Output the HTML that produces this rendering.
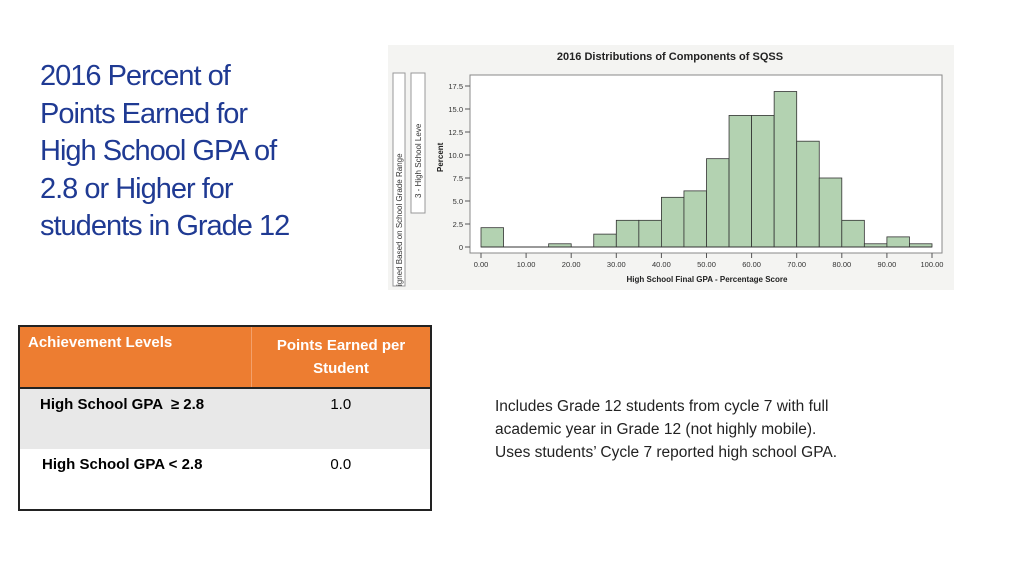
<!DOCTYPE html>
<html><head><meta charset="utf-8"><style>
body{margin:0;width:1024px;height:576px;background:#fff;position:relative;overflow:hidden;font-family:"Liberation Sans",sans-serif}
.t{position:absolute}
</style></head><body>
<div class="t" style="left:40px;top:58px;font-size:29px;line-height:37.5px;color:#1f3a93;letter-spacing:-1px;font-family:'Liberation Sans Narrow','Liberation Sans',sans-serif">2016 Percent of<br>Points Earned for<br>High School GPA of<br>2.8 or Higher for<br>students in Grade 12</div>

<svg class="t" style="left:0;top:0" width="1024" height="576">
<rect x="388" y="45" width="566" height="245" fill="#f4f4f2"/>
<text x="670" y="60" text-anchor="middle" font-size="11" font-weight="bold" fill="#222">2016 Distributions of Components of SQSS</text>
<rect x="393" y="73" width="12" height="213" fill="#fff" stroke="#999"/>
<text transform="translate(402,286) rotate(-90)" font-size="8" fill="#333">igned Based on School Grade Range</text>
<rect x="411" y="73" width="14" height="140" fill="#fff" stroke="#999"/>
<text transform="translate(421,198) rotate(-90)" font-size="8" fill="#333">3 - High School Leve</text>
<text transform="translate(443,172) rotate(-90)" font-size="8" font-weight="bold" fill="#222">Percent</text>
<rect x="470" y="75" width="472" height="178" fill="#fff" stroke="#888"/>
<g id="bars"></g><g id="yt"></g><g id="xt"></g>
<text x="707" y="282" text-anchor="middle" font-size="8" font-weight="bold" fill="#222">High School Final GPA - Percentage Score</text>
</svg>

<table class="t" style="left:18px;top:325px;width:414px;height:184px;border-collapse:collapse;border:2px solid #222;font-size:15px">
<tr style="background:#ed7d31;color:#fff;font-weight:bold;height:60px;border-bottom:2px solid #222">
<td style="width:215px;vertical-align:top;padding:7px 8px;border-right:1px solid #f3a06b">Achievement Levels</td>
<td style="text-align:center;vertical-align:top;padding:7px 8px;line-height:23px">Points Earned per Student</td></tr>
<tr style="background:#e8e8e8;height:61px"><td style="vertical-align:top;padding:7px 20px;font-weight:bold">High School GPA &nbsp;≥ 2.8</td><td style="text-align:center;vertical-align:top;padding:7px">1.0</td></tr>
<tr style="height:61px"><td style="vertical-align:top;padding:7px 22px;font-weight:bold">High School GPA &lt; 2.8</td><td style="text-align:center;vertical-align:top;padding:7px">0.0</td></tr>
</table>

<div class="t" style="left:495px;top:395px;font-size:15.5px;line-height:23px;color:#222">Includes Grade 12 students from cycle 7 with full<br>academic year in Grade 12 (not highly mobile).<br>Uses students’ Cycle 7 reported high school GPA.</div>

<script>
const binStarts=[0,5,10,15,20,25,30,35,40,45,50,55,60,65,70,75,80,85,90,95];
const percents=[2.1,0,0,0.35,0,1.4,2.9,2.9,5.4,6.1,9.6,14.3,14.3,16.9,11.5,7.5,2.9,0.35,1.1,0.35];
const yTicks=[0,2.5,5,7.5,10,12.5,15,17.5];
const yLabels=["0","2.5","5.0","7.5","10.0","12.5","15.0","17.5"];
const xTicks=[0,10,20,30,40,50,60,70,80,90,100];
const xLabels=["0.00","10.00","20.00","30.00","40.00","50.00","60.00","70.00","80.00","90.00","100.00"];
const ns="http://www.w3.org/2000/svg";
const X=v=>481+v*4.51, Y=v=>247-v*9.2;
const bars=document.getElementById('bars');
binStarts.forEach((s,i)=>{if(percents[i]<=0)return;
 const r=document.createElementNS(ns,'rect');
 
 
 r.setAttribute('x',X(s));r.setAttribute('width',X(s+5)-X(s));
 r.setAttribute('y',Y(percents[i]));r.setAttribute('height',Y(0)-Y(percents[i]));
 r.setAttribute('fill','#b3d2b1');r.setAttribute('stroke','#333');r.setAttribute('stroke-width','0.8');
 bars.appendChild(r);});
const bl=document.createElementNS(ns,'line');


bl.setAttribute('x1',X(0));bl.setAttribute('x2',X(100));bl.setAttribute('y1',Y(0));bl.setAttribute('y2',Y(0));bl.setAttribute('stroke','#333');
bars.appendChild(bl);
const yt=document.getElementById('yt');
yTicks.forEach((v,i)=>{
 const t=document.createElementNS(ns,'text');
 
 
 t.setAttribute('x',463);t.setAttribute('y',Y(v)+3);t.setAttribute('text-anchor','end');t.setAttribute('font-size','7.5');t.setAttribute('fill','#333');
 t.textContent=yLabels[i];yt.appendChild(t);
 const l=document.createElementNS(ns,'line');
 
 
 l.setAttribute('x1',465);l.setAttribute('x2',470);l.setAttribute('y1',Y(v));l.setAttribute('y2',Y(v));l.setAttribute('stroke','#555');
 yt.appendChild(l);});
const xt=document.getElementById('xt');
xTicks.forEach((v,i)=>{
 const t=document.createElementNS(ns,'text');
 
 
 t.setAttribute('x',X(v));t.setAttribute('y',267);t.setAttribute('text-anchor','middle');t.setAttribute('font-size','7.5');t.setAttribute('fill','#333');
 t.textContent=xLabels[i];xt.appendChild(t);
 const l=document.createElementNS(ns,'line');
 
 
 l.setAttribute('x1',X(v));l.setAttribute('x2',X(v));l.setAttribute('y1',253);l.setAttribute('y2',258);l.setAttribute('stroke','#555');
 xt.appendChild(l);});
</script>
</body></html>
